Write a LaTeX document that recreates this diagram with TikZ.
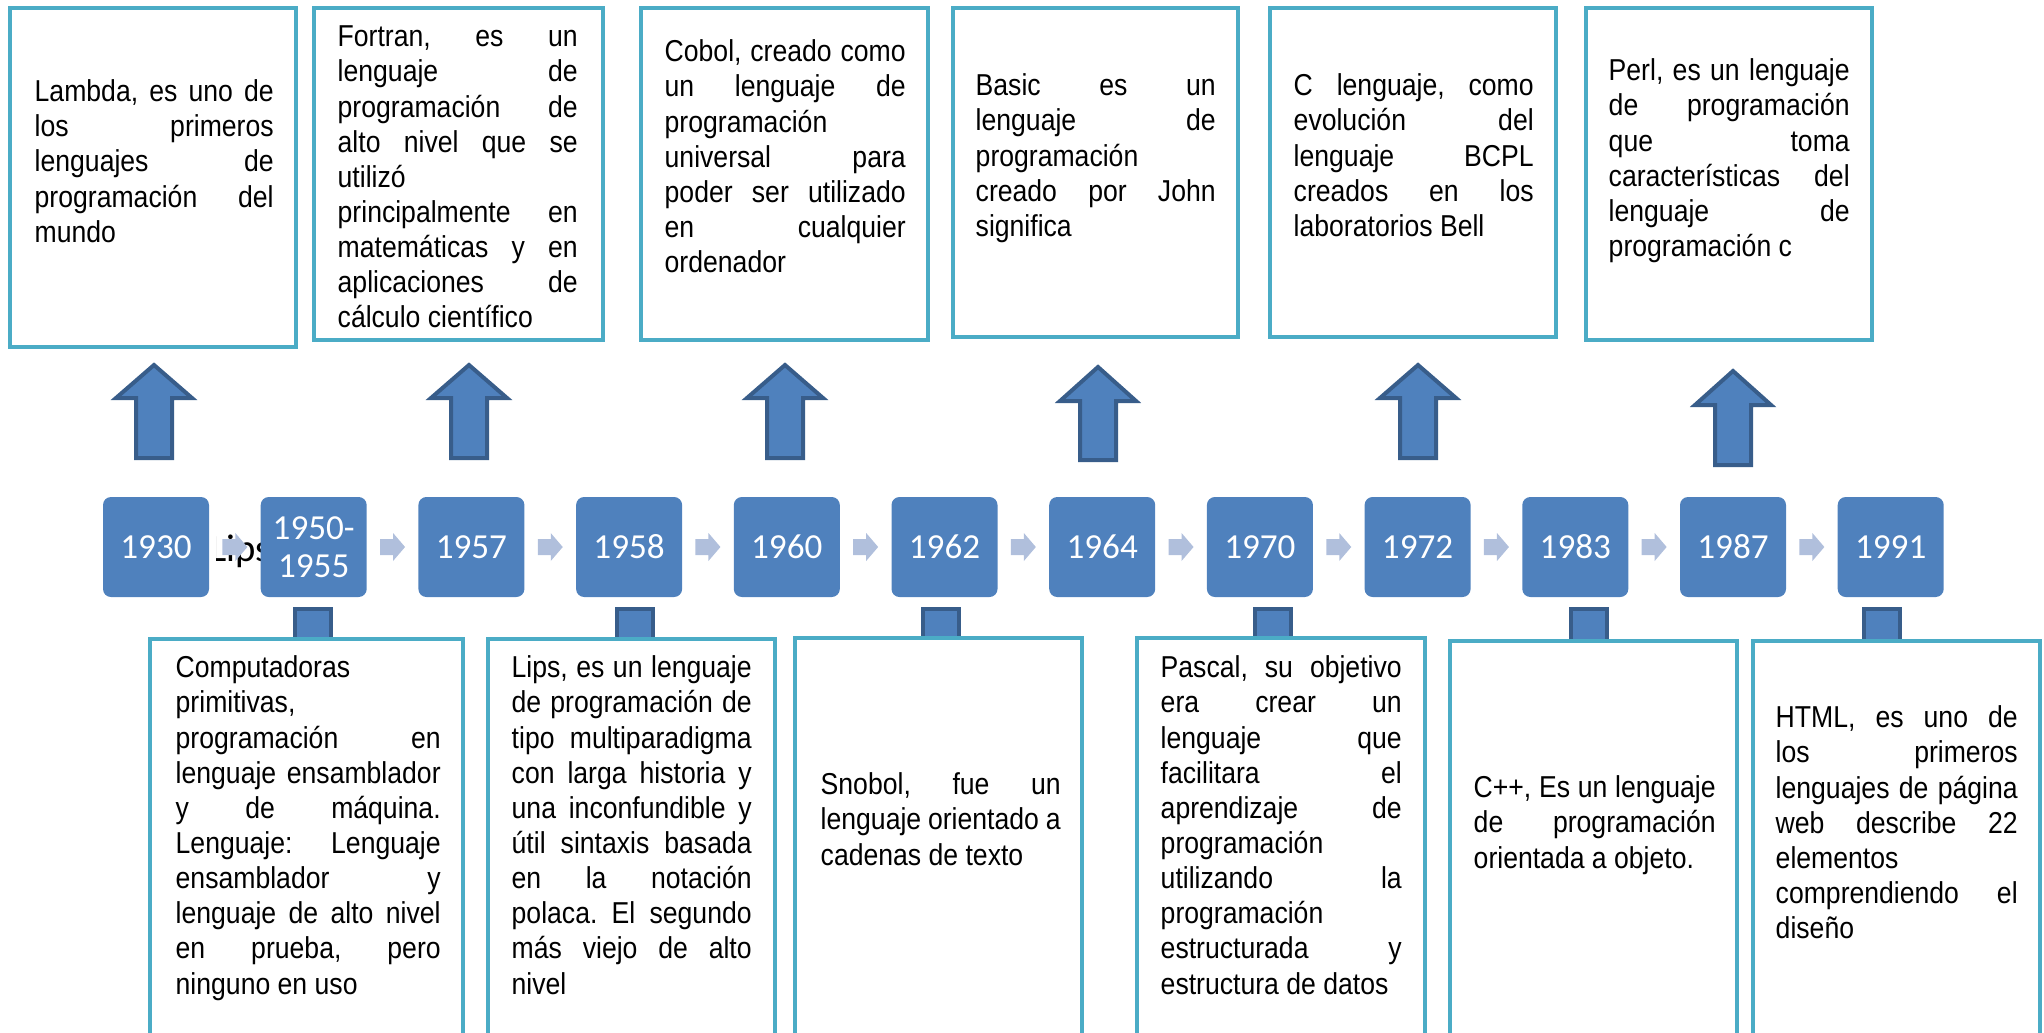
\documentclass[tikz,border=0pt]{standalone}
\usepackage{fontspec}
\setmainfont{Liberation Sans}
\newfontfamily\boxfont[FakeStretch=0.88]{Liberation Sans}
\newfontfamily\yearfont{Carlito}
\usetikzlibrary{calc}
\definecolor{boxteal}{HTML}{4BACC6}
\definecolor{accblue}{HTML}{4F81BD}
\definecolor{accdark}{HTML}{385D8A}
\definecolor{chevc}{HTML}{B0BFDC}
\hbadness=10000
\hfuzz=8pt
\newcommand\jl[1]{\par\hbox to\hsize{\strut#1}}
\newcommand\nl[1]{\par\hbox{\strut#1}}
\newcommand\btext[5]{\node[txt] (#4) at (#1,{#2-24.6}) {\vbox{\hsize=#3mm\frenchspacing\spaceskip=0pt\xspaceskip=0pt #5}};}
\newcommand\upblock[4]{\draw[uparrowst] (#1,{#2+3}) -- ({#1+38},{#3-2}) -- ({#1+18},{#3-2}) -- ({#1+18},{#4-2}) -- ({#1-18},{#4-2}) -- ({#1-18},{#3-2}) -- ({#1-38},{#3-2}) -- cycle;}
\begin{document}
\begin{tikzpicture}[x=0.1mm,y=-0.1mm,
  boxst/.style={draw=boxteal, line width=0.42mm, fill=white},
  txt/.style={inner sep=0pt, anchor=north west, font=\boxfont\fontsize{8.6}{10}\selectfont},
  yearbox/.style={fill=accblue, rounded corners=0.8mm, minimum width=10.6mm, minimum height=10mm, inner sep=0pt, text=white, font=\yearfont\fontsize{10}{10.8}\selectfont, align=center},
  uparrowst/.style={fill=accblue, draw=accdark, line width=0.4mm, line join=miter},
  connst/.style={fill=accblue, draw=accdark, line width=0.4mm},
  chevst/.style={fill=chevc}]
\useasboundingbox (0,0) rectangle (2044,1032);
\clip (0,0) rectangle (2044,1032);

% top boxes
\draw[boxst] (10,8) rectangle (296,347);
\draw[boxst] (314,8) rectangle (603,340);
\draw[boxst] (641,8) rectangle (928,340);
\draw[boxst] (953,8) rectangle (1238,337);
\draw[boxst] (1270,8) rectangle (1556,337);
\draw[boxst] (1586,8) rectangle (1872,340);

\btext{34}{101}{23.9}{tLambda}{\jl{Lambda, es uno de}\jl{los primeros}\jl{lenguajes de}\jl{programación del}\nl{mundo}}
\btext{337}{46}{24.0}{tFortran}{\jl{Fortran, es un}\jl{lenguaje de}\jl{programación de}\jl{alto nivel que se}\nl{utilizó}\jl{principalmente en}\jl{matemáticas y en}\jl{aplicaciones de}\nl{cálculo científico}}
\btext{664}{61}{24.1}{tCobol}{\jl{Cobol, creado como}\jl{un lenguaje de}\nl{programación}\jl{universal para}\jl{poder ser utilizado}\jl{en cualquier}\nl{ordenador}}
\btext{975}{95}{24.0}{tBasic}{\jl{Basic es un}\jl{lenguaje de}\nl{programación}\jl{creado por John}\nl{significa}}
\btext{1293}{95}{24.0}{tC}{\jl{C lenguaje, como}\jl{evolución del}\jl{lenguaje BCPL}\jl{creados en los}\nl{laboratorios Bell}}
\btext{1608}{80}{24.1}{tPerl}{\jl{Perl, es un lenguaje}\jl{de programación}\jl{que toma}\jl{características del}\jl{lenguaje de}\nl{programación c}}

% up arrows
\upblock{154}{362}{400}{460}
\upblock{469}{362}{400}{460}
\upblock{785}{362}{400}{460}
\upblock{1098}{364}{403}{462}
\upblock{1418}{362}{400}{460}
\upblock{1733}{368}{407}{467}

% stray text partly hidden
\begin{scope}
\clip (216,500) rectangle (262,600);
\node[anchor=base west, inner sep=0pt, font=\yearfont\fontsize{11}{13}\selectfont] (lipsleak) at (210,561) {Lips};
\end{scope}

% year boxes
\node[yearbox] (y1930) at (156,547) {1930};
\node[yearbox] (y1950) at (313.7,547) {1950-\\1955};
\node[yearbox] (y1957) at (471.4,547) {1957};
\node[yearbox] (y1958) at (629.1,547) {1958};
\node[yearbox] (y1960) at (786.8,547) {1960};
\node[yearbox] (y1962) at (944.5,547) {1962};
\node[yearbox] (y1964) at (1102.2,547) {1964};
\node[yearbox] (y1970) at (1259.9,547) {1970};
\node[yearbox] (y1972) at (1417.6,547) {1972};
\node[yearbox] (y1983) at (1575.3,547) {1983};
\node[yearbox] (y1987) at (1733,547) {1987};
\node[yearbox] (y1991) at (1890.7,547) {1991};

\foreach \a/\b in {y1930/y1950,y1950/y1957,y1957/y1958,y1958/y1960,y1960/y1962,y1962/y1964,y1964/y1970,y1970/y1972,y1972/y1983,y1983/y1987,y1987/y1991}{
  \coordinate (m) at ($(\a.east)!0.5!(\b.west)$);
  \fill[chevst] ([shift={(-12.5,-8)}]m) -- ([shift={(0.5,-8)}]m) -- ([shift={(0.5,-14)}]m) -- ([shift={(12.5,0)}]m) -- ([shift={(0.5,14)}]m) -- ([shift={(0.5,8)}]m) -- ([shift={(-12.5,8)}]m) -- cycle;
}

% connectors below
\foreach \cx in {313,635,941,1273,1589,1882}{
  \draw[connst] ({\cx-18},609) rectangle ({\cx+18},660);
}

% bottom boxes
\draw[boxst] (150,639) rectangle (463,1060);
\draw[boxst] (488,639) rectangle (775,1060);
\draw[boxst] (795,638) rectangle (1082,1060);
\draw[boxst] (1137,638) rectangle (1425,1060);
\draw[boxst] (1450,641) rectangle (1737,1060);
\draw[boxst] (1753,641) rectangle (2040,1060);

\btext{175}{677}{26.5}{tComp}{\nl{Computadoras}\nl{primitivas,}\jl{programación en}\jl{lenguaje ensamblador}\jl{y de máquina.}\jl{Lenguaje: Lenguaje}\jl{ensamblador y}\jl{lenguaje de alto nivel}\jl{en prueba, pero}\nl{ninguno en uso}}
\btext{511}{677}{24.0}{tLips}{\jl{Lips, es un lenguaje}\jl{de programación de}\jl{tipo multiparadigma}\jl{con larga historia y}\jl{una inconfundible y}\jl{útil sintaxis basada}\jl{en la notación}\jl{polaca. El segundo}\jl{más viejo de alto}\nl{nivel}}
\btext{820}{794}{24.0}{tSnobol}{\jl{Snobol, fue un}\jl{lenguaje orientado a}\nl{cadenas de texto}}
\btext{1160}{677}{24.1}{tPascal}{\jl{Pascal, su objetivo}\jl{era crear un}\jl{lenguaje que}\jl{facilitara el}\jl{aprendizaje de}\nl{programación}\jl{utilizando la}\nl{programación}\jl{estructurada y}\nl{estructura de datos}}
\btext{1473}{797}{24.2}{tCpp}{\jl{C++, Es un lenguaje}\jl{de programación}\nl{orientada a objeto.}}
\btext{1775}{727}{24.2}{tHtml}{\jl{HTML, es uno de}\jl{los primeros}\jl{lenguajes de página}\jl{web describe 22}\nl{elementos}\jl{comprendiendo el}\nl{diseño}}
\end{tikzpicture}
\end{document}
